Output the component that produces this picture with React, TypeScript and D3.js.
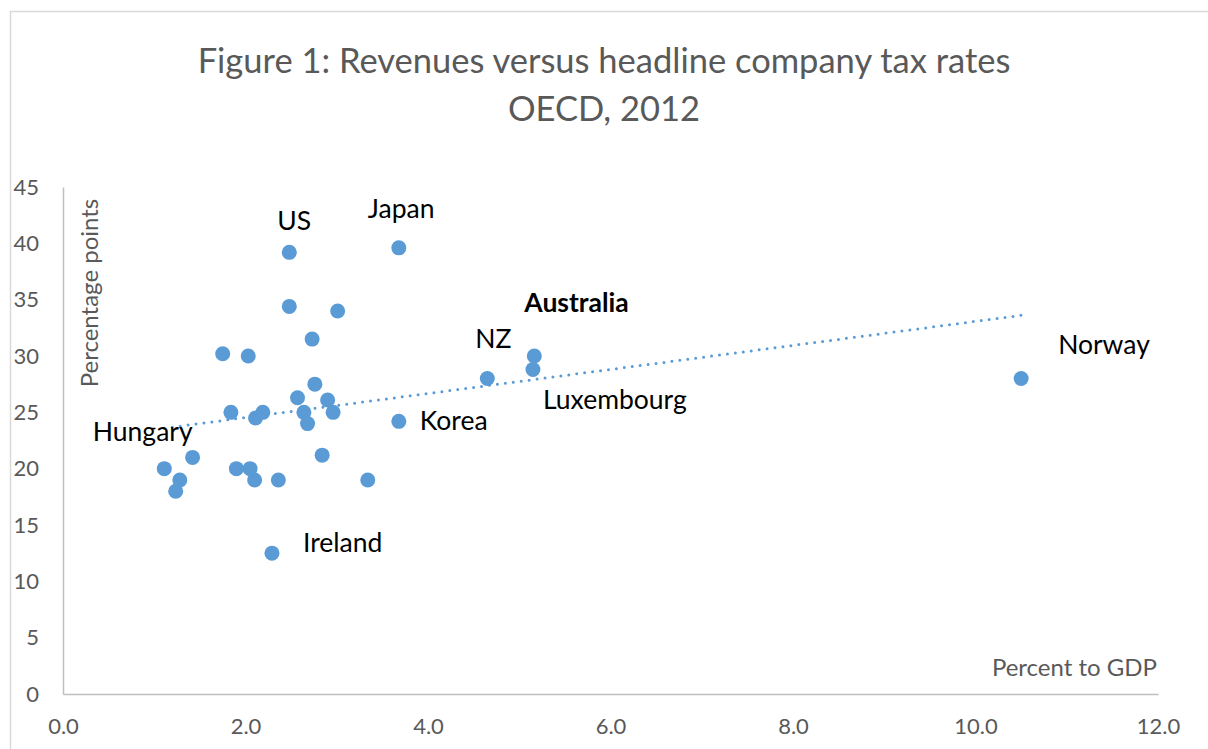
import * as d3 from 'd3';
import { useEffect, useRef } from 'react';

// company tax revenue, percent of GDP
const revenue = [
  1.11, 1.28, 1.235, 1.42, 1.75, 2.03, 1.84, 2.11, 2.19, 1.9, 2.05, 2.1, 2.36, 2.48, 2.48, 3.01,
  2.73, 2.76, 2.57, 2.9, 2.64, 2.96, 2.68, 2.84, 3.34, 3.68, 3.68, 2.29, 4.65, 5.165, 5.15, 10.5,
];
// headline company tax rate, percentage points
const taxRate = [
  20, 19, 18, 21, 30.2, 30, 25, 24.5, 25, 20, 20, 19, 19, 39.2, 34.4, 34, 31.5, 27.5, 26.3, 26.1,
  25, 25, 24, 21.2, 19, 39.6, 24.2, 12.5, 28, 30, 28.8, 28,
];
const country = [
  '', 'Hungary', '', '', '', '', '', '', '', '', '', '', '', 'US', '', '', '', '', '', '', '', '',
  '', '', '', 'Japan', 'Korea', 'Ireland', 'NZ', 'Australia', 'Luxembourg', 'Norway',
];
const xTicks = [0, 2, 4, 6, 8, 10, 12];
const yTicks = [0, 5, 10, 15, 20, 25, 30, 35, 40, 45];

// where each label sits relative to its dot
const LABEL_OFFSET: Record<string, [number, number]> = {
  Hungary: [-87, -39],
  US: [-12, -22],
  Japan: [-31, -30],
  Korea: [21, 9],
  Ireland: [31, -1],
  NZ: [-12, -31],
  Australia: [-10, -44],
  Luxembourg: [10, 39],
  Norway: [37, -25],
};

const WIDTH = 1208;
const HEIGHT = 749;
const PLOT = { left: 63, right: 1158, top: 187, bottom: 694 };
const BLUE = '#5B9BD5';
const GREY = '#595959';
const FONT = 'Lato, "Open Sans", sans-serif';

export default function App() {
  const xAxisRef = useRef<SVGGElement>(null);
  const yAxisRef = useRef<SVGGElement>(null);

  const x = d3.scaleLinear().domain([0, 12]).range([PLOT.left, PLOT.right]);
  const y = d3.scaleLinear().domain([0, 45]).range([PLOT.bottom, PLOT.top]);

  // least squares trend line over the points
  const mx = d3.mean(revenue)!;
  const my = d3.mean(taxRate)!;
  const sxy = d3.sum(revenue, (v, i) => (v - mx) * (taxRate[i] - my));
  const sxx = d3.sum(revenue, (v) => (v - mx) ** 2);
  const slope = sxy / sxx;
  const trend = (v: number) => my + slope * (v - mx);
  const [xMin, xMax] = d3.extent(revenue) as [number, number];
  const trendPath = d3.line<number>()
    .x((v) => x(v))
    .y((v) => y(trend(v)))([xMin, xMax]);

  useEffect(() => {
    const styleAxis = (g: d3.Selection<SVGGElement, unknown, null, undefined>) => {
      g.select('.domain').attr('stroke', '#bfbfbf').attr('stroke-width', 1.5);
      g.selectAll('.tick line').remove();
      g.selectAll('.tick text')
        .attr('fill', GREY)
        .style('font-family', FONT)
        .style('font-size', '22px');
    };
    d3.select(xAxisRef.current!)
      .call(
        d3.axisBottom(x).tickValues(xTicks).tickFormat(d3.format('.1f')).tickSize(0).tickPadding(24),
      )
      .call(styleAxis);
    d3.select(yAxisRef.current!)
      .call(d3.axisLeft(y).tickValues(yTicks).tickFormat(d3.format('d')).tickSize(0).tickPadding(24))
      .call(styleAxis);
  });

  return (
    <svg
      width={WIDTH}
      height={HEIGHT}
      style={{ position: 'absolute', left: 0, top: 0, background: '#fff' }}
    >
      <path d={`M10.5,${HEIGHT}V11.5H${WIDTH}`} fill="none" stroke="#d9d9d9" strokeWidth={1.5} />
      <text
        x={604}
        textAnchor="middle"
        fill={GREY}
        style={{ fontFamily: FONT, fontSize: 34.5 }}
      >
        <tspan x={604} y={73}>Figure 1: Revenues versus headline company tax rates</tspan>
        <tspan x={604} y={121}>OECD, 2012</tspan>
      </text>

      <g ref={xAxisRef} transform={`translate(0,${PLOT.bottom})`} />
      <g ref={yAxisRef} transform={`translate(${PLOT.left},0)`} />

      <text
        transform="translate(98,293) rotate(-90)"
        textAnchor="middle"
        fill={GREY}
        style={{ fontFamily: FONT, fontSize: 24 }}
      >
        Percentage points
      </text>
      <text
        x={1157}
        y={676}
        textAnchor="end"
        fill={GREY}
        style={{ fontFamily: FONT, fontSize: 24 }}
      >
        Percent to GDP
      </text>

      <path
        d={trendPath ?? ''}
        fill="none"
        stroke={BLUE}
        strokeWidth={3}
        strokeDasharray="0 8"
        strokeLinecap="round"
      />

      {revenue.map((v, i) => (
        <circle key={i} cx={x(v)} cy={y(taxRate[i])} r={7.5} fill={BLUE} />
      ))}

      {country.map((name, i) => {
        if (!name) return null;
        const [dx, dy] = LABEL_OFFSET[name];
        return (
          <text
            key={name}
            x={x(revenue[i]) + dx}
            y={y(taxRate[i]) + dy}
            fill="#000"
            style={{
              fontFamily: FONT,
              fontSize: 26.5,
              fontWeight: name === 'Australia' ? 700 : 400,
            }}
          >
            {name}
          </text>
        );
      })}
    </svg>
  );
}
